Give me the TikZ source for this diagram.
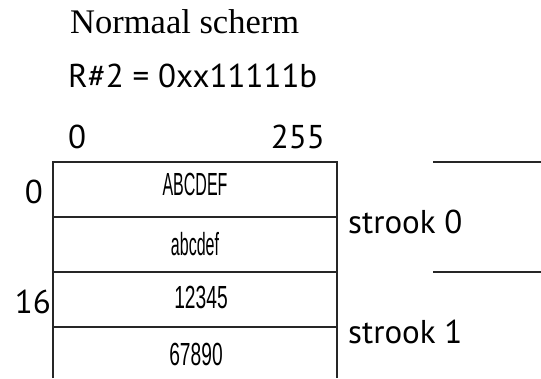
\documentclass[tikz,border=0pt]{standalone}
\usepackage{fontspec}
\setmainfont{TeX Gyre Heros}
\newfontfamily\titlefont{Liberation Serif}
\newfontfamily\labelfont{PT Sans}
\newfontfamily\cellfont{Liberation Sans}
\begin{document}
\begin{tikzpicture}[x=1pt,y=-1pt,
  frame/.style={line width=1.2pt,draw=black!85},
  title/.style={anchor=base west,inner sep=0pt,font=\titlefont\fontsize{34.5}{34.5}\selectfont},
  lbl/.style={inner sep=0pt,font=\labelfont\fontsize{33}{33}\selectfont},
  cell/.style={anchor=base,inner sep=0pt,font=\cellfont\fontsize{32}{32}\selectfont}]
\useasboundingbox (0,0) rectangle (541,378);

% headings
\node[title] (head) at (70,33) {Normaal scherm};
\node[lbl,anchor=base west] (reg) at (68,87) {R\#2 = 0xx11111b};
\node[lbl,anchor=base west] (xmin) at (68,148) {0};
\node[lbl,anchor=base east] (xmax) at (325,148) {255};

% screen frame, open at the bottom
\coordinate (tl) at (53,162);
\coordinate (tr) at (337,162);
\draw[frame] (53,378) -- (tl) -- (tr) -- (337,378);
\foreach \yy in {217,272,327} \draw[frame] (53,\yy) -- (337,\yy);

% row contents
\node[cell] (r1) at (195,195) {\scalebox{0.5}[1]{ABCDEF}};
\node[cell] (r2) at (195,255) {\scalebox{0.5}[1]{abcdef}};
\node[cell] (r3) at (201,308) {\scalebox{0.6}[1]{12345}};
\node[cell] (r4) at (196,365) {\scalebox{0.6}[1]{67890}};

% line numbers
\node[lbl,anchor=base east] (y0) at (43,203) {0};
\node[lbl,anchor=base east] (y16) at (51,313) {16};

% strips
\node[lbl,anchor=base west] (s0) at (348,233) {strook 0};
\node[lbl,anchor=base west] (s1) at (348,343) {strook 1};
\draw[frame] (433,162) -- (541,162);
\draw[frame] (433,272) -- (541,272);
\end{tikzpicture}
\end{document}
